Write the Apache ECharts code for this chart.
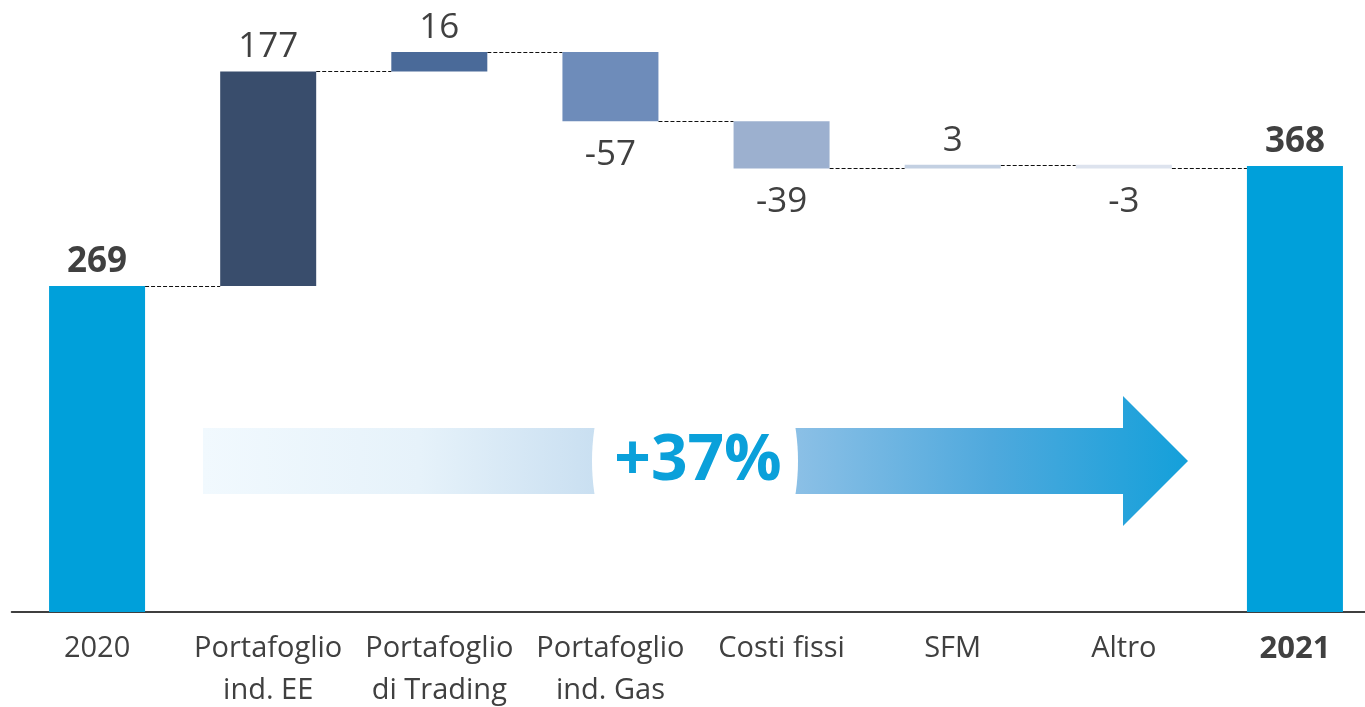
<!DOCTYPE html>
<html lang="it">
<head>
    <meta charset="UTF-8">
    <title>Waterfall 2020 - 2021</title>
    <style>
      * { padding: 0; margin: 0; }
      html, body { background: #fff; overflow: hidden; }
   </style>
</head>
<body>
    <div id="main" style="width: 1365px;height:707px;"></div>
    <script src="https://cdn.jsdelivr.net/npm/echarts@6/dist/echarts.min.js"></script>
    <script>
        // dati
        var categories = ['2020', 'Portafoglio\nind. EE', 'Portafoglio\ndi Trading', 'Portafoglio\nind. Gas', 'Costi fissi', 'SFM', 'Altro', '2021'];
        var startValue = 269;
        var changes = [177, 16, -57, -39, 3, -3];
        var endValue = 368;
        var barColors = ['#00A0DA', '#394D6C', '#4A6A99', '#6E8CBA', '#9CB0CF', '#C3D0E2', '#DDE3EE', '#00A0DA'];

        // costruzione serie a cascata
        var baseData = [0];
        var barData = [startValue];
        var labels = [startValue];
        var levels = [startValue];   // livello dopo ogni barra (per le linee tratteggiate)
        var level = startValue;
        changes.forEach(function (c) {
            if (c >= 0) {
                baseData.push(level);
                barData.push(c);
                level += c;
            } else {
                level += c;
                baseData.push(level);
                barData.push(-c);
            }
            labels.push(c);
            levels.push(level);
        });
        baseData.push(0);
        barData.push(endValue);
        labels.push(endValue);

        var connectorData = levels.map(function (v, i) { return [i, v]; });

        var isTotal = function (i) { return i === 0 || i === categories.length - 1; };

        var option = {
            animation: false,
            // la griglia sfora leggermente a destra, come nell'originale
            grid: { left: 11.5, width: 1369, top: 6, height: 606, outerBoundsMode: 'none', containLabel: false },
            xAxis: {
                type: 'category',
                data: categories,
                axisTick: { show: false },
                axisLine: { lineStyle: { color: '#000', width: 1.5 } },
                axisLabel: {
                    interval: 0,
                    margin: 16,
                    color: '#404040',
                    fontFamily: 'Open Sans',
                    fontSize: 29,
                    lineHeight: 42,
                    verticalAlign: 'top',
                    formatter: function (v, i) {
                        return i === categories.length - 1 ? '{b|' + v + '}' : v;
                    },
                    rich: {
                        b: { fontWeight: 'bold', fontSize: 31, color: '#404040', fontFamily: 'Open Sans' }
                    }
                }
            },
            yAxis: {
                type: 'value',
                min: 0,
                max: 500,
                show: false,
                splitLine: { show: false }
            },
            series: [
                {
                    type: 'bar',
                    stack: 'wf',
                    barWidth: 96,
                    itemStyle: { color: 'transparent' },
                    data: baseData,
                    silent: true
                },
                {
                    type: 'bar',
                    stack: 'wf',
                    barWidth: 96,
                    data: barData.map(function (v, i) {
                        var neg = labels[i] < 0;
                        return {
                            value: v,
                            itemStyle: { color: barColors[i] },
                            label: {
                                show: true,
                                position: neg ? 'bottom' : 'top',
                                distance: neg ? 16 : 6,
                                formatter: String(labels[i]),
                                fontFamily: 'Open Sans',
                                fontSize: 35,
                                lineHeight: 36,
                                fontWeight: isTotal(i) ? 'bold' : 'normal',
                                color: '#404040'
                            }
                        };
                    })
                },
                {
                    // linee tratteggiate di collegamento
                    type: 'custom',
                    silent: true,
                    data: connectorData,
                    renderItem: function (params, api) {
                        var p = api.coord([api.value(0), api.value(1)]);
                        var band = api.size([1, 0])[0];
                        var half = 48;
                        var y = Math.round(p[1]) + 0.5;
                        return {
                            type: 'line',
                            shape: { x1: p[0] + half, y1: y, x2: p[0] + band - half, y2: y },
                            style: { stroke: '#111', lineWidth: 1, lineDash: [4, 2] }
                        };
                    }
                }
            ],
            graphic: [
                {
                    type: 'polygon',
                    silent: true,
                    shape: {
                        points: [[203, 428], [1123, 428], [1123, 396], [1188, 461], [1123, 526], [1123, 494], [203, 494]]
                    },
                    style: {
                        fill: new echarts.graphic.LinearGradient(0, 0, 1, 0, [
                            { offset: 0, color: '#F1F9FE' },
                            { offset: 0.22, color: '#E6F2FA' },
                            { offset: 0.4, color: '#C9DFF1' },
                            { offset: 0.6, color: '#8CC0E6' },
                            { offset: 0.8, color: '#4FA9DD' },
                            { offset: 1, color: '#14A0DA' }
                        ])
                    }
                },
                {
                    type: 'ellipse',
                    silent: true,
                    shape: { cx: 695, cy: 461, rx: 103, ry: 150 },
                    style: { fill: '#fff' }
                },
                {
                    type: 'text',
                    silent: true,
                    x: 698,
                    y: 462,
                    style: {
                        text: '+37%',
                        fill: '#0AA0DA',
                        font: 'bold 64px "Open Sans"',
                        align: 'center',
                        verticalAlign: 'middle'
                    }
                }
            ]
        };

        var myChart = echarts.init(document.getElementById('main'));
        myChart.setOption(option);
    </script>
</body>
</html>
